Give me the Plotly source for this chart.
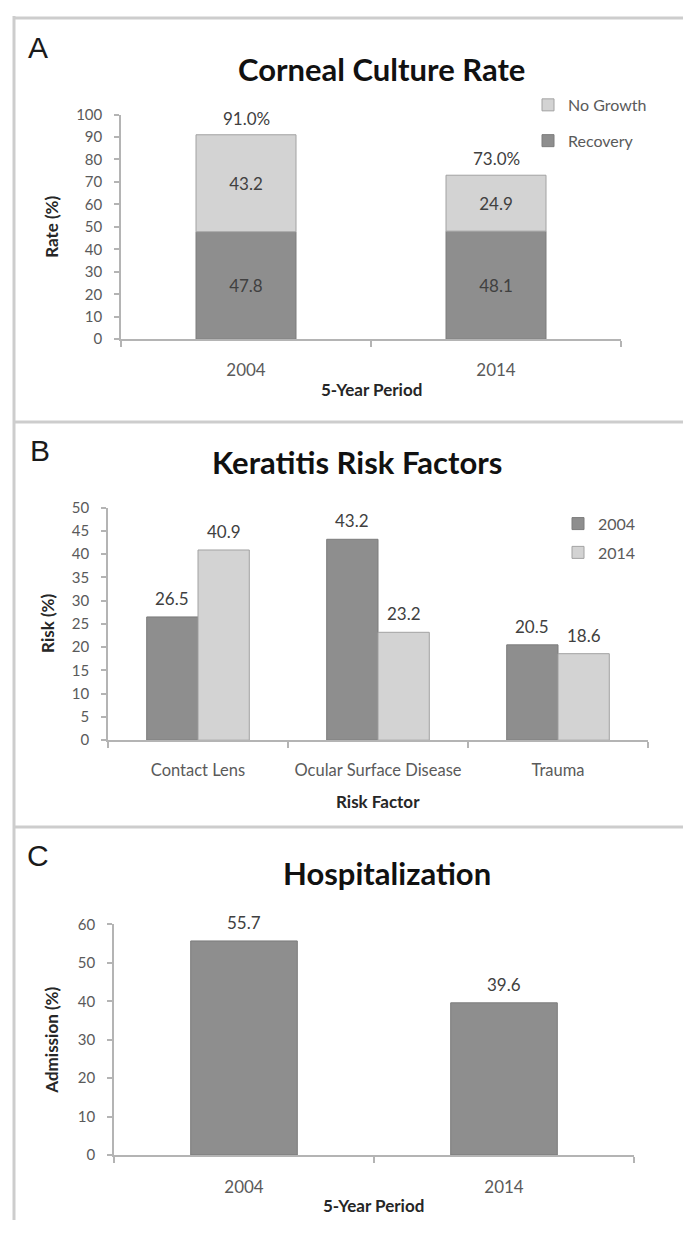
import plotly.graph_objects as go

# page geometry (browser body has an 8px margin)
PAGE_W, PAGE_H = 691, 1236
M = 8
W, H = PAGE_W - 2 * M, PAGE_H - 2 * M

# ---------------- data ----------------
# Panel A: Corneal Culture Rate
periods = ["2004", "2014"]
recovery = [47.8, 48.1]
no_growth = [43.2, 24.9]

# Panel B: Keratitis Risk Factors
risk_factors = ["Contact Lens", "Ocular Surface Disease", "Trauma"]
risk_2004 = [26.5, 43.2, 20.5]
risk_2014 = [40.9, 23.2, 18.6]

# Panel C: Hospitalization
admission = [55.7, 39.6]

# ---------------- style ----------------
DARK, DARK_LINE = "#8e8e8e", "#7c7c7c"
LIGHT, LIGHT_LINE = "#d3d3d3", "#a2a2a2"
TICK_C = "#5a5a5a"
LABEL_C = "#404040"
AXIS_C = "#b4b4b4"
FONT = "Lato"


def fx(px):
    return (px - M) / W


def fy(py):
    return 1 - (py - M) / H


fig = go.Figure()

# Panel A (stacked via explicit base)
fig.add_trace(go.Bar(
    x=periods, y=recovery, name="Recovery", xaxis="x", yaxis="y",
    marker=dict(color=DARK, line=dict(color=DARK_LINE, width=1)),
    width=0.4, offset=-0.2, legend="legend", legendgroup="rec", legendrank=2,
    text=[f"{v:.1f}" for v in recovery], textposition="inside",
    insidetextanchor="middle", textangle=0,
    textfont=dict(color=LABEL_C, size=17, family=FONT),
))
fig.add_trace(go.Bar(
    x=periods, y=no_growth, base=recovery, name="No Growth", xaxis="x", yaxis="y",
    marker=dict(color=LIGHT, line=dict(color=LIGHT_LINE, width=1)),
    width=0.4, offset=-0.2, legend="legend", legendgroup="ng", legendrank=1,
    text=[f"{v:.1f}" for v in no_growth], textposition="inside",
    insidetextanchor="middle", textangle=0,
    textfont=dict(color=LABEL_C, size=17, family=FONT),
))

# Panel B (grouped)
BW = 0.285
fig.add_trace(go.Bar(
    x=risk_factors, y=risk_2004, name="2004", xaxis="x2", yaxis="y2",
    marker=dict(color=DARK, line=dict(color=DARK_LINE, width=1)),
    width=BW, offset=-BW, legend="legend2", legendgroup="b04", legendrank=1,
))
fig.add_trace(go.Bar(
    x=risk_factors, y=risk_2014, name="2014", xaxis="x2", yaxis="y2",
    marker=dict(color=LIGHT, line=dict(color=LIGHT_LINE, width=1)),
    width=BW, offset=0, legend="legend2", legendgroup="b14", legendrank=2,
))

# Panel C
fig.add_trace(go.Bar(
    x=periods, y=admission, name="Admission", xaxis="x3", yaxis="y3",
    marker=dict(color=DARK, line=dict(color=DARK_LINE, width=1)),
    width=0.41, offset=-0.205, showlegend=False,
))

annotations = []
LBL_FONT = dict(color=LABEL_C, size=17, family=FONT)

# totals above stacked bars (category index used as x)
for i, (r, n) in enumerate(zip(recovery, no_growth)):
    annotations.append(dict(x=i, y=r + n, xref="x", yref="y", text=f"{r + n:.1f}%",
                            showarrow=False, yanchor="bottom", yshift=4, font=LBL_FONT))

# panel B value labels
catw_b = (648 - 108) / len(risk_factors)
for i, v in enumerate(risk_2004):
    annotations.append(dict(x=i, y=v, xref="x2", yref="y2", text=f"{v:.1f}",
                            showarrow=False, yanchor="bottom", yshift=6,
                            xshift=-BW / 2 * catw_b, font=LBL_FONT))
for i, v in enumerate(risk_2014):
    annotations.append(dict(x=i, y=v, xref="x2", yref="y2", text=f"{v:.1f}",
                            showarrow=False, yanchor="bottom", yshift=6,
                            xshift=BW / 2 * catw_b, font=LBL_FONT))

# panel C value labels
for i, v in enumerate(admission):
    annotations.append(dict(x=i, y=v, xref="x3", yref="y3", text=f"{v:.1f}",
                            showarrow=False, yanchor="bottom", yshift=6, font=LBL_FONT))

# panel letters, titles, axis titles
panels = [
    ("A", (38, 38), "Corneal Culture Rate", (381, 60), "Rate (%)", (52, 220), "5-Year Period", (371, 385)),
    ("B", (40, 447), "Keratitis Risk Factors", (357, 459), "Risk (%)", (48, 623), "Risk Factor", (378, 803)),
    ("C", (38, 858), "Hospitalization", (387, 876), "Admission (%)", (52, 1045), "5-Year Period", (373, 1213)),
]
for letter, lp, title, tp, yt, yp, xt, xp in panels:
    annotations.append(dict(x=fx(lp[0]), y=fy(lp[1]), xref="paper", yref="paper", text=letter,
                            showarrow=False, xanchor="center", yanchor="middle",
                            font=dict(family="Liberation Sans", size=30, color="#1a1a1a")))
    annotations.append(dict(x=fx(tp[0]), y=fy(tp[1]), xref="paper", yref="paper", text=f"<b>{title}</b>",
                            showarrow=False, xanchor="center", yanchor="middle",
                            font=dict(family=FONT, size=31, color="#111111")))
    annotations.append(dict(x=fx(yp[0]), y=fy(yp[1]), xref="paper", yref="paper", text=f"<b>{yt}</b>",
                            showarrow=False, xanchor="center", yanchor="middle", textangle=-90,
                            font=dict(family=FONT, size=17, color="#262626")))
    annotations.append(dict(x=fx(xp[0]), y=fy(xp[1]), xref="paper", yref="paper", text=f"<b>{xt}</b>",
                            showarrow=False, xanchor="center", yanchor="middle",
                            font=dict(family=FONT, size=17, color="#262626")))

# panel frame lines
BORDER = "#cdcdcd"
shapes = [
    dict(type="line", xref="paper", yref="paper", x0=fx(14), x1=fx(14), y0=fy(6), y1=0,
         line=dict(color=BORDER, width=3)),
    dict(type="line", xref="paper", yref="paper", x0=fx(13), x1=1, y0=fy(8), y1=fy(8),
         line=dict(color=BORDER, width=3)),
    dict(type="line", xref="paper", yref="paper", x0=fx(13), x1=1, y0=fy(418), y1=fy(418),
         line=dict(color=BORDER, width=3)),
    dict(type="line", xref="paper", yref="paper", x0=fx(13), x1=1, y0=fy(829), y1=fy(829),
         line=dict(color=BORDER, width=3)),
]


def yax(domain, rng, dtick, anchor):
    return dict(domain=domain, range=rng, dtick=dtick, anchor=anchor,
                showgrid=False, zeroline=False, showline=True, linecolor=AXIS_C, linewidth=1.5,
                ticks="outside", ticklen=5, tickcolor=AXIS_C, tickwidth=1.5,
                ticklabelstandoff=9, fixedrange=True,
                tickfont=dict(family=FONT, size=15, color=TICK_C))


def xax(domain, n, anchor, standoff, size):
    return dict(domain=domain, type="category", range=[-0.5, n - 0.5], anchor=anchor,
                showgrid=False, zeroline=False, showline=True, linecolor=AXIS_C, linewidth=1.5,
                ticks="outside", ticklen=6, tickcolor=AXIS_C, tickwidth=1.5, tickangle=0,
                tickson="boundaries", ticklabelstandoff=standoff, fixedrange=True,
                tickfont=dict(family=FONT, size=size, color=TICK_C))


fig.update_layout(
    width=W, height=H,
    margin=dict(l=0, r=0, t=0, b=0),
    paper_bgcolor="white", plot_bgcolor="white",
    barmode="group",
    xaxis=xax([fx(121), fx(621)], len(periods), "y", 15, 17),
    yaxis=yax([fy(334), fy(106)], [0, 100], 10, "x"),
    xaxis2=xax([fx(108), fx(648)], len(risk_factors), "y2", 14, 16.5),
    yaxis2=yax([fy(741), fy(505)], [0, 50], 5, "x2"),
    xaxis3=xax([fx(114), fx(634)], len(periods), "y3", 16, 17),
    yaxis3=yax([fy(1162), fy(928)], [0, 60], 10, "x3"),
    legend=dict(x=fx(528), y=fy(79), xanchor="left", yanchor="top",
                traceorder="grouped", tracegroupgap=12,
                font=dict(family=FONT, size=16, color=TICK_C), bgcolor="rgba(0,0,0,0)"),
    legend2=dict(x=fx(558), y=fy(504), xanchor="left", yanchor="top",
                 traceorder="grouped", tracegroupgap=5,
                 font=dict(family=FONT, size=16, color=TICK_C), bgcolor="rgba(0,0,0,0)"),
    annotations=annotations,
    shapes=shapes,
    showlegend=True,
)

fig.write_html("out.html")
